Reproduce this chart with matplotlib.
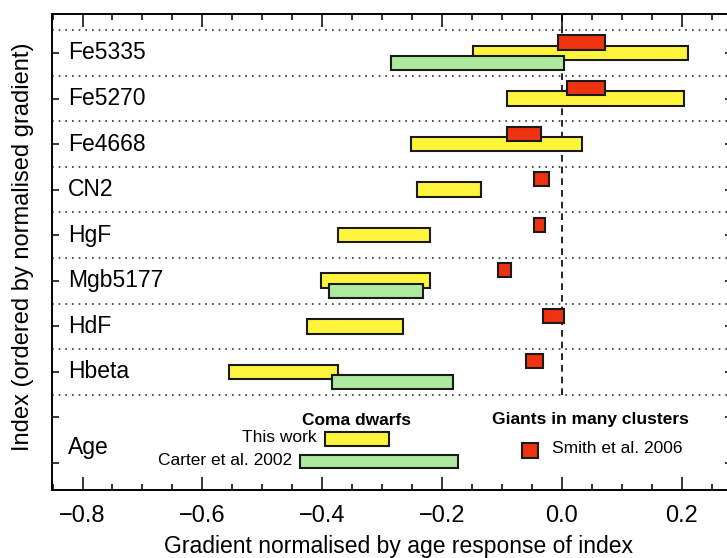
import numpy as np
import matplotlib.pyplot as plt
from matplotlib.ticker import MultipleLocator, FixedLocator

plt.rcParams['font.family'] = ['Liberation Sans', 'DejaVu Sans']

# индексы сверху вниз
indices = ['Fe5335', 'Fe5270', 'Fe4668', 'CN2', 'HgF', 'Mgb5177', 'HdF', 'Hbeta']

# интервалы градиентов (левый край, правый край); None - нет данных
this_work = [(-0.149, 0.210), (-0.092, 0.204), (-0.252, 0.034), (-0.242, -0.135),
             (-0.374, -0.220), (-0.402, -0.220), (-0.425, -0.265), (-0.556, -0.374)]
carter = [(-0.286, 0.003), None, None, None,
          None, (-0.389, -0.232), None, (-0.384, -0.182)]
smith = [(-0.007, 0.072), (0.009, 0.072), (-0.091, -0.035), (-0.047, -0.021),
         (-0.047, -0.028), (-0.107, -0.085), (-0.031, 0.003), (-0.060, -0.031)]

c_yellow = '#fff53c'
c_green = '#aee9a0'
c_red = '#ee3311'
c_edge = '#1a1a1a'

fig = plt.figure(figsize=(7.27, 5.58), dpi=100)
ax = fig.add_axes([0.0715, 0.1219, 0.9354, 0.853])


def bar(x0, x1, yc, h, color):
    ax.barh(yc, x1 - x0, left=x0, height=h, color=color,
            edgecolor=c_edge, linewidth=1.5, zorder=3)


rows = np.arange(len(indices), 0, -1) + 2   # 10 ... 3

for y, name, tw, ca, sm in zip(rows, indices, this_work, carter, smith):
    ax.text(0.0235, y, name, transform=ax.get_yaxis_transform(),
            fontsize=16.5, va='center', ha='left')
    bar(tw[0], tw[1], y, 0.32, c_yellow)
    if ca is not None:
        bar(ca[0], ca[1], y - 0.22, 0.30, c_green)
    bar(sm[0], sm[1], y + 0.23, 0.31, c_red)

# разделители строк
for yl in np.arange(2.5, 11, 1.0):
    ax.axhline(yl, color='#333333', linestyle=(0, (1, 3)), linewidth=1.2, zorder=1)

ax.plot([0, 0], [2.5, 11], color='black', linestyle=(0, (4, 3)),
        linewidth=1.2, zorder=2)

# строка Age с легендой
ax.text(0.0235, 1.33, 'Age', transform=ax.get_yaxis_transform(),
        fontsize=16.5, va='center', ha='left')
ax.text(-0.342, 1.93, 'Coma dwarfs', fontsize=12.5, fontweight='bold',
        ha='center', va='center')
ax.text(-0.41, 1.55, 'This work', fontsize=12.5, ha='right', va='center')
bar(-0.396, -0.289, 1.528, 0.31, c_yellow)
ax.text(-0.45, 1.05, 'Carter et al. 2002', fontsize=12.5, ha='right', va='center')
bar(-0.437, -0.173, 1.034, 0.29, c_green)
ax.text(0.047, 1.95, 'Giants in many clusters', fontsize=12.5, fontweight='bold',
        ha='center', va='center')
bar(-0.066, -0.040, 1.275, 0.33, c_red)
ax.text(-0.016, 1.31, 'Smith et al. 2006', fontsize=12.5, ha='left', va='center')

ax.set_xlim(-0.851, 0.284)
ax.set_ylim(0.407, 10.856)

ax.xaxis.set_major_locator(MultipleLocator(0.2))
ax.xaxis.set_minor_locator(MultipleLocator(0.05))
ax.yaxis.set_major_locator(FixedLocator(np.arange(1, 11)))
ax.set_yticklabels([])
ax.set_xticks(np.arange(-0.8, 0.21, 0.2))
ax.set_xticklabels(['\u22120.8', '\u22120.6', '\u22120.4', '\u22120.2', '0.0', '0.2'])

ax.tick_params(axis='x', which='major', direction='in', length=9.5, width=1.1,
               top=True, labelsize=17, pad=11)
ax.tick_params(axis='x', which='minor', direction='in', length=4.5, width=1.1,
               top=True)
ax.tick_params(axis='y', which='major', direction='in', length=5, width=1.1,
               right=True)

for s in ax.spines.values():
    s.set_linewidth(1.4)

ax.set_xlabel('Gradient normalised by age response of index', fontsize=16.5)
ax.xaxis.set_label_coords(0.51, -0.094)
ax.set_ylabel('Index (ordered by normalised gradient)', fontsize=17)
ax.yaxis.set_label_coords(-0.026, 0.51)

fig.savefig('out.png', dpi=100)
